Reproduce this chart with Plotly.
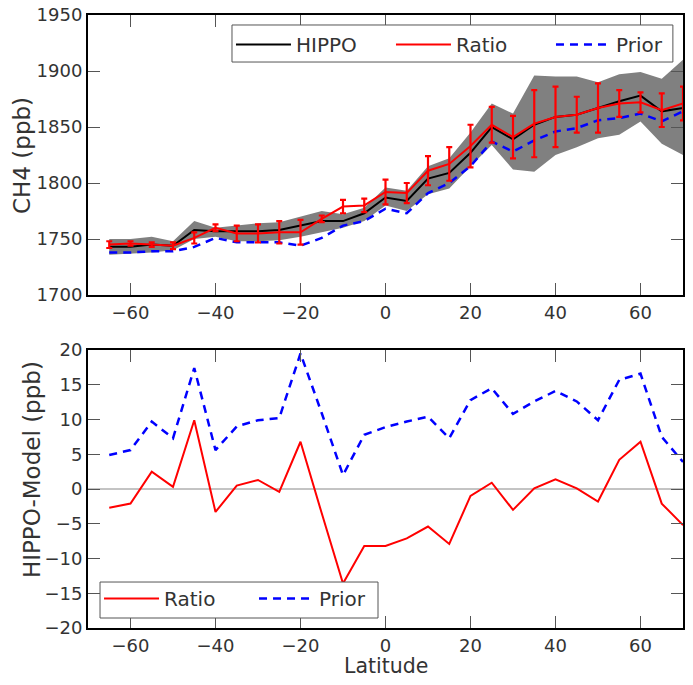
import plotly.graph_objects as go

lat = [-65, -60, -55, -50, -45, -40, -35, -30, -25, -20, -15, -10, -5, 0,
       5, 10, 15, 20, 25, 30, 35, 40, 45, 50, 55, 60, 65, 70]

hippo = [1743, 1743, 1745, 1744, 1758, 1757, 1757, 1757, 1758, 1762, 1766, 1766, 1773, 1787,
         1784, 1804, 1809, 1827, 1850, 1839, 1852, 1859, 1861, 1867, 1873, 1878, 1864, 1867]
band_lo = [1736, 1737, 1738, 1740, 1750, 1752, 1748, 1748, 1749, 1752, 1756, 1760, 1766, 1780,
           1775, 1790, 1795, 1815, 1834, 1812, 1810, 1825, 1832, 1840, 1843, 1855, 1835, 1825]
band_hi = [1750, 1750, 1752, 1748, 1766, 1760, 1762, 1764, 1765, 1770, 1775, 1772, 1778, 1796,
           1793, 1815, 1822, 1845, 1871, 1862, 1896, 1895, 1895, 1890, 1897, 1899, 1893, 1910]
ratio = [1745, 1746, 1745, 1744, 1751, 1760, 1755, 1755, 1756, 1756, 1768, 1779, 1780, 1792,
         1791, 1811, 1817, 1833, 1852, 1841, 1853, 1859, 1861, 1867, 1871, 1872, 1865, 1871]
ratio_err = [3, 2, 2, 3, 5, 3, 7, 8, 10, 11, 3, 6, 6, 11,
             9, 13, 15, 19, 16, 19, 30, 27, 16, 22, 12, 9, 15, 15]
prior = [1738, 1738, 1739, 1739, 1743, 1751, 1747, 1747, 1747, 1744, 1751, 1762, 1766, 1777,
         1773, 1791, 1800, 1815, 1837, 1828, 1838, 1846, 1849, 1856, 1858, 1862, 1855, 1864]

diff_ratio = [-2.7, -2.1, 2.5, 0.3, 9.9, -3.3, 0.5, 1.3, -0.4, 6.8, -3.5, -13.6, -8.2, -8.2,
              -7.1, -5.4, -7.9, -1.0, 0.9, -3.0, 0.1, 1.4, 0.1, -1.8, 4.2, 6.8, -2.1, -5.2]
diff_prior = [4.9, 5.6, 9.7, 7.3, 17.4, 5.6, 9.0, 9.9, 10.2, 19.5, 10.9, 2.0, 7.8, 8.9,
              9.7, 10.4, 7.3, 12.8, 14.5, 10.8, 12.6, 14.1, 12.6, 9.9, 15.7, 16.6, 7.5, 3.9]

xticks = [-60, -40, -20, 0, 20, 40, 60]
yticks_top = [1700, 1750, 1800, 1850, 1900, 1950]
yticks_bot = [-20, -15, -10, -5, 0, 5, 10, 15, 20]


def minus(v):
    return "\u2212" + str(-v) if v < 0 else str(v)


FONT = "DejaVu Sans"
TXT = "#333333"
RED = "#ff0000"
BLUE = "#0000ff"

fig = go.Figure()

# shaded band (top)
fig.add_trace(go.Scatter(x=lat, y=band_lo, mode="lines", line=dict(width=0, color="#808080"),
                         showlegend=False, hoverinfo="skip", xaxis="x", yaxis="y"))
fig.add_trace(go.Scatter(x=lat, y=band_hi, mode="lines", line=dict(width=0, color="#808080"),
                         fill="tonexty", fillcolor="#808080", showlegend=False,
                         hoverinfo="skip", xaxis="x", yaxis="y"))
fig.add_trace(go.Scatter(x=lat, y=prior, mode="lines", name="Prior",
                         line=dict(color=BLUE, width=2.5, dash="8px,6px"),
                         xaxis="x", yaxis="y", legend="legend", legendrank=3))
fig.add_trace(go.Scatter(x=lat, y=hippo, mode="lines", name="HIPPO",
                         line=dict(color="black", width=2),
                         xaxis="x", yaxis="y", legend="legend", legendrank=1))
fig.add_trace(go.Scatter(x=lat, y=ratio, mode="lines", name="Ratio",
                         line=dict(color=RED, width=2),
                         error_y=dict(type="data", array=ratio_err, color=RED, thickness=2.2, width=3),
                         xaxis="x", yaxis="y", legend="legend", legendrank=2))

# bottom panel
fig.add_trace(go.Scatter(x=lat, y=diff_ratio, mode="lines", name="Ratio",
                         line=dict(color=RED, width=2),
                         xaxis="x2", yaxis="y2", legend="legend2"))
fig.add_trace(go.Scatter(x=lat, y=diff_prior, mode="lines", name="Prior",
                         line=dict(color=BLUE, width=2.5, dash="8px,6px"),
                         xaxis="x2", yaxis="y2", legend="legend2"))

axis_common = dict(showline=True, linecolor="black", linewidth=2, mirror="ticks",
                   ticks="inside", ticklen=12, tickwidth=1, tickcolor="#555555",
                   showgrid=False, zeroline=False, automargin=False,
                   tickfont=dict(family=FONT, size=18, color=TXT))

fig.update_layout(
    width=693, height=685,
    margin=dict(l=88, r=10, t=15, b=57, autoexpand=False),
    paper_bgcolor="white", plot_bgcolor="white",
    font=dict(family=FONT, size=18, color=TXT),
    xaxis=dict(domain=[0, 1], anchor="y", range=[-70, 70], tickvals=xticks,
               ticktext=[minus(v) for v in xticks], **axis_common),
    yaxis=dict(domain=[0.5432, 1], anchor="x", range=[1700, 1950], tickvals=yticks_top,
               **axis_common),
    xaxis2=dict(domain=[0, 1], anchor="y2", range=[-70, 70], tickvals=xticks,
                ticktext=[minus(v) for v in xticks], **axis_common),
    yaxis2=dict(domain=[0, 0.4535], anchor="x2", range=[-20, 20], tickvals=yticks_bot,
                ticktext=[minus(v) for v in yticks_bot], **axis_common),
    legend=dict(orientation="h", xref="container", yref="container",
                x=0.3333, xanchor="left", y=0.9635, yanchor="top",
                bgcolor="rgba(0,0,0,0)", borderwidth=0,
                font=dict(family=FONT, size=20, color=TXT),
                entrywidth=90, itemwidth=55, traceorder="normal"),
    legend2=dict(orientation="h", xref="container", yref="container",
                 x=0.1429, xanchor="left", y=0.0978, yanchor="bottom",
                 bgcolor="rgba(0,0,0,0)", borderwidth=0,
                 font=dict(family=FONT, size=20, color=TXT),
                 entrywidth=85, itemwidth=55, traceorder="normal"),
    shapes=[
        dict(type="line", xref="x2 domain", yref="y2", x0=0, x1=1, y0=0, y1=0,
             line=dict(color="#888888", width=1), layer="below"),
        dict(type="rect", xref="paper", yref="paper", x0=0.242, x1=0.983, y0=0.9233, y1=0.9837,
             fillcolor="white", line=dict(color="#555555", width=1), layer="above"),
        dict(type="rect", xref="paper", yref="paper", x0=0.0202, x1=0.4874, y0=0.0163, y1=0.075,
             fillcolor="white", line=dict(color="#555555", width=1), layer="above"),
    ],
    annotations=[
        dict(text="CH4 (ppb)", xref="paper", yref="paper", x=-0.111, y=0.7716,
             textangle=-90, showarrow=False, xanchor="center", yanchor="middle",
             font=dict(family=FONT, size=23, color=TXT)),
        dict(text="HIPPO-Model (ppb)", xref="paper", yref="paper", x=-0.094, y=0.2577,
             textangle=-90, showarrow=False, xanchor="center", yanchor="middle",
             font=dict(family=FONT, size=23, color=TXT)),
        dict(text="Latitude", xref="paper", yref="paper", x=0.5, y=-0.062,
             showarrow=False, xanchor="center", yanchor="middle",
             font=dict(family=FONT, size=20.5, color=TXT)),
    ],
)

fig.write_html("out.html")
